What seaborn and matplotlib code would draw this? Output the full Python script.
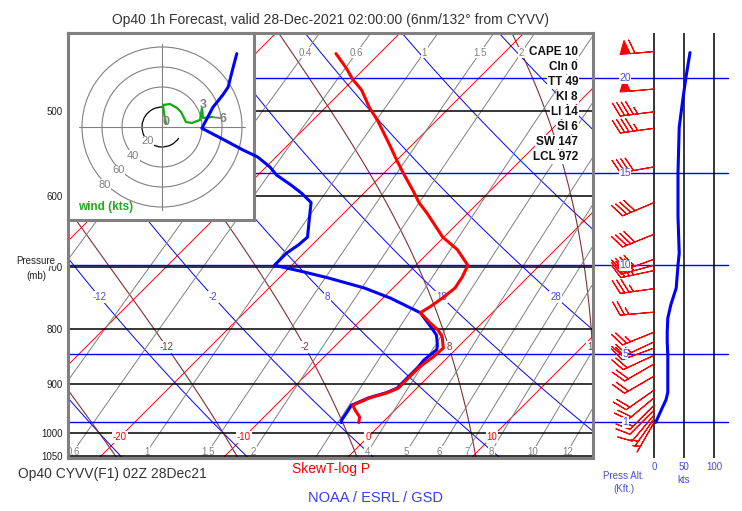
"""
Skew-T / log-P sounding with hodograph inset and wind profile panel.
"""

import numpy as np
import matplotlib
matplotlib.use("Agg")
import matplotlib.pyplot as plt
from matplotlib.patches import Circle, Arc
from matplotlib.ticker import NullLocator, NullFormatter
import seaborn as sns

# ═══════════════════ DATA ═══════════════════
temp_p = [442, 456, 467, 478, 496, 510, 521, 540, 556, 571, 595, 609, 623, 656, 674,
          697, 715, 732, 748, 762, 772, 789, 801, 813, 833, 849, 868, 886, 908, 917,
          927, 942, 952, 966, 978]
temp_c = [-33.5, -31.5, -30.1, -28.5, -26.5, -24.8, -23.6, -21.6, -20.0, -18.5, -16.1,
          -14.8, -13.3, -10.1, -7.9, -5.8, -5.3, -5.0, -5.2, -5.5, -5.8, -4.2, -3.0,
          -2.1, -1.1, -1.2, -1.5, -1.5, -1.5, -2.0, -3.0, -3.8, -3.2, -2.3, -1.9]

dewp_p = [442, 460, 475, 483, 496, 519, 532, 544, 552, 564, 574, 586, 597, 609, 635,
          656, 667, 679, 697, 707, 716, 732, 748, 772, 796, 810, 828, 836, 855, 868,
          886, 908, 917, 927, 942, 956, 972, 978]
dewp_c = [-41.5, -40.4, -39.5, -39.3, -39.1, -38.3, -35.6, -33.2, -31.5, -29.7, -28.5,
          -26.6, -25.0, -23.5, -22.1, -21.0, -21.1, -21.4, -21.4, -18.5, -16.1, -12.3,
          -9.4, -5.8, -3.8, -2.7, -1.8, -1.5, -1.7, -1.6, -1.6, -1.6, -2.1, -3.1, -3.9,
          -3.7, -3.5, -3.3]

# wind barbs (pressure mb, direction deg, speed kts)
barb_p = [440, 477, 501, 519, 564, 609, 652, 688, 697, 705, 733, 771, 805, 822, 833,
          846, 862, 885, 912, 927, 942, 952, 962, 970, 978]
barb_dir = [265, 265, 263, 262, 260, 247, 248, 250, 255, 258, 262, 265, 248, 245, 250,
            245, 240, 240, 235, 230, 225, 225, 220, 215, 210]
barb_spd = [60, 50, 45, 45, 40, 40, 40, 40, 40, 35, 35, 25, 25, 25, 20,
            20, 20, 20, 20, 20, 15, 10, 10, 5, 5]

# wind speed profile
spd_p = [441, 466, 488, 518, 571, 628, 679, 697, 732, 759, 781, 805, 822, 846, 916,
         931, 952, 977, 978]
spd_kt = [60, 53, 48, 42, 40, 40, 42, 40, 37, 28, 23, 22, 22, 23, 23, 20, 12, 3, 0]

# hodograph (kts)
hodo_u = [4, 2, 1, 8, 15, 19, 22, 24, 30, 35, 38, 40, 41, 50]
hodo_v = [3, 14, 22, 23, 19, 15, 9, 5, 4, 6, 7, 19, 9, 10]
tail_u = [50, 58]
tail_v = [10, 9]
hodo_marks = ["0", "3", "6"]
hodo_mark_u = [4, 41, 61]
hodo_mark_v = [5, 22, 8]
hodo_rings = [40, 60, 80]

# indices
stat_names = ["CAPE", "CIn", "TT", "KI", "LI", "SI", "SW", "LCL"]
stat_vals = [10, 0, 49, 8, 14, 6, 147, 972]

# chart furniture
p_levels = [500, 600, 700, 800, 900, 1000, 1050]
alt_kft = [20, 15, 10, 5, 1]
alt_p = [466, 572, 697, 843, 977]
isotherms = list(range(-60, 30, 10))
iso_labels = [-20, -10, 0, 10]
dry_thetas = list(range(-32, 68, 10))
dry_labels = [-12, -2, 8, 18, 28]
moist_thetas = [-22, -12, -2, 8, 18, 28]
moist_labels = [-12, -2, 8, 18]
mix_ratios = [0.2, 0.4, 0.6, 1, 1.5, 2, 3, 4, 5, 6, 7, 8, 10, 12, 14, 16, 20]
mix_top = [0.4, 0.6, 1, 1.5, 2]
mix_bottom = [0.6, 1, 1.5, 2, 4, 5, 6, 7, 8, 10, 12]

# ═══════════════════ STYLE ═══════════════════
sns.set_theme(style="white")
plt.rcParams["font.family"] = ["Liberation Sans", "DejaVu Sans"]

W, H = 742, 511
P_BOT, P_TOP = 1055.3, 422.8
X_LEFT, X_RIGHT = -24.52, 17.82
SKEW = 37.47          # deg C per unit ln(p) -> 45 degree isotherms

RED = "#ff0000"
BLUE = "#0000ff"
BROWN = "#803030"
GRAY = "#808080"
LBLUE = "#4a4ae0"
WHITE_BOX = dict(facecolor="white", edgecolor="none", pad=0.6)


def px_rect(l, t, r, b):
    return [l / W, 1 - b / H, (r - l) / W, (b - t) / H]


def skx(t, p):
    return np.asarray(t, float) + SKEW * np.log(1000.0 / np.asarray(p, float))


def dry_adiabat(theta, p):
    return (theta + 273.15) * (p / 1000.0) ** 0.2857 - 273.15


def mix_dewpoint(w, p):
    e = w * p / (622.0 + w)
    a = np.log(e / 6.112)
    return 243.5 * a / (17.67 - a)


def moist_adiabat(tw):
    def slope(t, p):
        es = 6.112 * np.exp(17.67 * (t - 273.15) / (t - 29.65))
        rs = 0.622 * es / (p - es)
        return (287.04 * t + 2.501e6 * rs) / (1004.0 + 2.501e6 ** 2 * rs * 0.622 / (287.04 * t ** 2)) / p
    res = []
    for grid in (np.arange(1000.0, 419.0, -2.0), np.arange(1000.0, 1062.0, 2.0)):
        t = tw + 273.15
        ts = [t]
        for p0, p1 in zip(grid[:-1], grid[1:]):
            k = slope(t + slope(t, p0) * (p1 - p0) / 2, (p0 + p1) / 2)
            t = t + k * (p1 - p0)
            ts.append(t)
        res.append((grid, np.array(ts) - 273.15))
    (pu, tu), (pd_, td_) = res
    return np.concatenate([pd_[::-1], pu[1:]]), np.concatenate([td_[::-1], tu[1:]])


def setup_logp(ax):
    ax.set_yscale("log")
    ax.set_ylim(P_BOT, P_TOP)
    ax.yaxis.set_minor_locator(NullLocator())
    ax.yaxis.set_minor_formatter(NullFormatter())


fig = plt.figure(figsize=(W / 100, H / 100), dpi=100)

# ═══════════════════ MAIN SKEW-T BACKGROUND ═══════════════════
ax = fig.add_axes(px_rect(68, 33, 593, 458), zorder=0)
setup_logp(ax)
ax.set_xlim(X_LEFT, X_RIGHT)
ax.set_xticks([])
ax.set_yticks(p_levels)
ax.set_yticklabels([str(p) for p in p_levels])
ax.tick_params(axis="y", length=0, pad=4, labelsize=7, labelcolor="#222222")
for s in ax.spines.values():
    s.set_color(GRAY)
    s.set_linewidth(2.2)
    s.set_zorder(8)

pp = np.geomspace(1065, 415, 120)

for t in isotherms:
    ax.plot(skx([t, t], [1065, 415]), [1065, 415], color=RED, lw=0.7, zorder=2)
for t in iso_labels:
    ax.text(skx(t, 1009), 1009, str(t), color=RED, fontsize=7, ha="center",
            va="center", bbox=WHITE_BOX, zorder=5, clip_on=True)

for th in dry_thetas:
    ax.plot(skx(dry_adiabat(th, pp), pp), pp, color=BLUE, lw=0.7, zorder=2)
for th in dry_labels:
    ax.text(skx(dry_adiabat(th, 746), 746), 746, str(th), color=LBLUE, fontsize=7,
            ha="center", va="center", bbox=WHITE_BOX, zorder=5, clip_on=True)

for tw in moist_thetas:
    mp, mt = moist_adiabat(tw)
    ax.plot(skx(mt, mp), mp, color=BROWN, lw=0.8, zorder=2)
    if tw in moist_labels:
        lt = np.interp(np.log(831), np.log(mp[::-1]), mt[::-1])
        ax.text(skx(lt, 831), 831, str(tw), color=BROWN, fontsize=7, ha="center",
                va="center", bbox=WHITE_BOX, zorder=5, clip_on=True)

for w in mix_ratios:
    ax.plot(skx(mix_dewpoint(w, pp), pp), pp, color=GRAY, lw=0.7, zorder=2)
for w in mix_top:
    ax.text(skx(mix_dewpoint(w, 441), 441), 441, f"{w:g}", color=GRAY, fontsize=7,
            ha="center", va="center", bbox=WHITE_BOX, zorder=3, clip_on=True)
for w in mix_bottom:
    ax.text(skx(mix_dewpoint(w, 1041), 1041), 1041, f"{w:g}", color=GRAY, fontsize=7,
            ha="center", va="center", bbox=WHITE_BOX, zorder=3, clip_on=True)

for p in p_levels:
    ax.axhline(p, color="black", lw=1.1, zorder=4)

for p in alt_p:
    ax.axhline(p, xmin=0, xmax=(728 - 68) / 525, color=BLUE, lw=1.0, zorder=4,
               clip_on=False)

# stability indices
for i, (name, val) in enumerate(zip(stat_names, stat_vals)):
    ax.text((578 - 68) / 525, 1 - (52 + 15 * i - 33) / 425, f"{name} {val}",
            transform=ax.transAxes, ha="right", va="center", fontsize=8.5,
            fontweight="bold", color="#111111", bbox=WHITE_BOX, zorder=7)

# ═══════════════════ HODOGRAPH INSET ═══════════════════
hx = fig.add_axes(px_rect(68, 33, 254, 220), zorder=2)
hx.set_xlim(-94, 92)
hx.set_ylim(-93, 94)
hx.set_xticks([])
hx.set_yticks([])
hx.set_facecolor("white")
for s in hx.spines.values():
    s.set_color(GRAY)
    s.set_linewidth(2.2)
hx.plot([-83, 83], [0, 0], color=GRAY, lw=0.8)
hx.plot([0, 0], [-83, 83], color=GRAY, lw=0.8)
for r in hodo_rings:
    hx.add_patch(Circle((0, 0), r, fill=False, edgecolor=GRAY, lw=0.8))
hx.add_patch(Arc((0, 0), 40, 40, theta1=87, theta2=327, edgecolor="black", lw=0.9))
for r in [20] + hodo_rings:
    hx.text(-0.72 * r, -0.72 * r, str(r), color=GRAY, fontsize=8, ha="center",
            va="center", bbox=dict(facecolor="white", edgecolor="none", pad=0.3))
hx.plot(tail_u, tail_v, color=GRAY, lw=1.4)
sns.lineplot(x=hodo_u, y=hodo_v, sort=False, estimator=None, color="#11aa11",
             lw=1.6, ax=hx)
for m, u, v in zip(hodo_marks, hodo_mark_u, hodo_mark_v):
    hx.text(u, v, m, color=GRAY, fontsize=9, fontweight="bold", ha="center", va="center")
hx.text(-84, -86, "wind (kts)", color="#22aa22", fontsize=8.5, fontweight="bold",
        ha="left", va="bottom")
hx.set_xlabel("")
hx.set_ylabel("")

# ═══════════════════ SOUNDING OVERLAY ═══════════════════
sx = fig.add_axes(px_rect(68, 33, 593, 458), zorder=3)
setup_logp(sx)
sx.set_xlim(X_LEFT, X_RIGHT)
sx.set_facecolor("none")
sns.lineplot(x=skx(dewp_c, dewp_p), y=dewp_p, sort=False, estimator=None,
             color=BLUE, lw=2.2, ax=sx)
sns.lineplot(x=skx(temp_c, temp_p), y=temp_p, sort=False, estimator=None,
             color=RED, lw=2.2, ax=sx)
sx.set_xlim(X_LEFT, X_RIGHT)
sx.set_ylim(P_BOT, P_TOP)
sx.axis("off")

# ═══════════════════ WIND PANEL ═══════════════════
wx = fig.add_axes(px_rect(598, 33, 728, 458), zorder=1)
setup_logp(wx)
wx.set_xlim(-93.3, 123.3)
wx.set_facecolor("none")
for s in wx.spines.values():
    s.set_visible(False)
wx.set_yticks([])
wx.set_xticks([0, 50, 100])
wx.set_xticklabels(["0", "50", "100"])
wx.tick_params(axis="x", length=0, pad=3, labelsize=7, labelcolor=LBLUE)
for k in [0, 50, 100]:
    wx.axvline(k, color="black", lw=1.1, zorder=1)
for a, p in zip(alt_kft, alt_p):
    wx.text(-48, p, str(a), color=LBLUE, fontsize=7.5, ha="center", va="center",
            bbox=dict(facecolor="white", edgecolor="none", pad=0.3), zorder=4)

bp = np.array(barb_p, float)
bs = np.array(barb_spd, float)
d = np.deg2rad(barb_dir)
bu = -bs * np.sin(d)
bv = -bs * np.cos(d)
strong = bs >= 50
# pennant winds
wx.barbs(np.zeros(strong.sum()), bp[strong], bu[strong], bv[strong], length=7,
         color=RED, lw=0.8, zorder=3,
         sizes=dict(spacing=0.14, height=0.4, width=0.3))
# feathered winds: feathers slanted toward the far end of the staff
wx.barbs(np.zeros((~strong).sum()), bp[~strong], bu[~strong], bv[~strong], length=7,
         color=RED, lw=0.8, zorder=3,
         sizes=dict(spacing=0.13, height=0.4, width=0.36))
sns.lineplot(x=spd_kt, y=spd_p, sort=False, estimator=None, color=BLUE, lw=2.2,
             ax=wx)
wx.set_xlabel("")
wx.set_ylabel("")
wx.set_xlim(-93.3, 123.3)
wx.set_ylim(P_BOT, P_TOP)

# ═══════════════════ TEXT ═══════════════════
fig.text(331 / W, 1 - 20 / H,
         "Op40 1h Forecast, valid 28-Dec-2021 02:00:00 (6nm/132\u00b0 from CYVV)",
         ha="center", va="center", fontsize=10, color="#333333")
fig.text(18 / W, 1 - 474 / H, "Op40 CYVV(F1) 02Z 28Dec21", ha="left", va="center",
         fontsize=10, color="#333333")
fig.text(331 / W, 1 - 469 / H, "SkewT-log P", ha="center", va="center",
         fontsize=10, color=RED)
fig.text(376 / W, 1 - 498 / H, "NOAA / ESRL / GSD", ha="center", va="center",
         fontsize=10.5, color="#3a3aff")
fig.text(36 / W, 1 - 261 / H, "Pressure", ha="center", va="center", fontsize=7,
         color="#222222", bbox=dict(facecolor="white", edgecolor="none", pad=0.2))
fig.text(36 / W, 1 - 276 / H, "(mb)", ha="center", va="center", fontsize=7,
         color="#222222")
fig.text(624 / W, 1 - 476 / H, "Press Alt.", ha="center", va="center", fontsize=7,
         color=LBLUE)
fig.text(624 / W, 1 - 489 / H, "(Kft.)", ha="center", va="center", fontsize=7,
         color=LBLUE)
fig.text(684 / W, 1 - 480 / H, "kts", ha="center", va="center", fontsize=7,
         color=LBLUE)

fig.savefig("out.png", dpi=100, facecolor="white")
